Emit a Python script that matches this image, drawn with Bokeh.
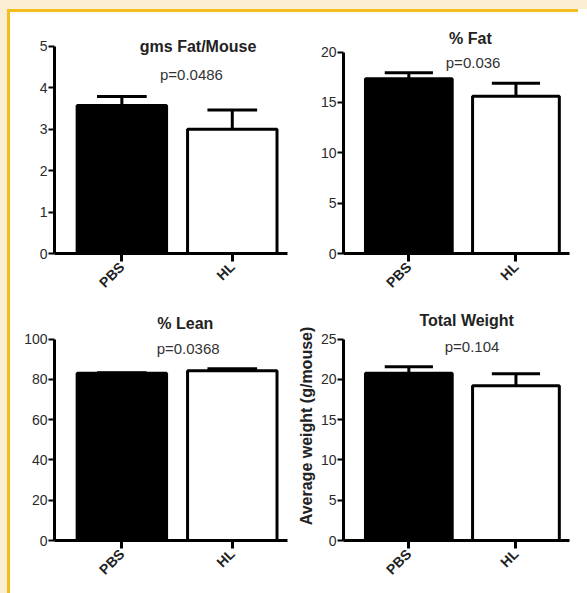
import math
from bokeh.plotting import figure
from bokeh.layouts import gridplot
from bokeh.models import FixedTicker, Label, Range1d
from bokeh.embed import file_html
from bokeh.resources import INLINE

# ---------------- data ----------------
groups = ["PBS", "HL"]
xpos = [1, 2]

titles = ["gms Fat/Mouse", "% Fat", "% Lean", "Total Weight"]
pvalues = ["p=0.0486", "p=0.036", "p=0.0368", "p=0.104"]
ylabels = ["", "", "", "Average weight (g/mouse)"]

fat_mass = [3.57, 3.00]
fat_mass_se = [0.22, 0.46]
fat_pct = [17.35, 15.62]
fat_pct_se = [0.60, 1.28]
lean_pct = [83.0, 84.3]
lean_pct_se = [0.35, 1.0]
weight = [20.75, 19.2]
weight_se = [0.82, 1.5]

yticks_fat_mass = [0, 1, 2, 3, 4, 5]
yticks_fat_pct = [0, 5, 10, 15, 20]
yticks_lean_pct = [0, 20, 40, 60, 80, 100]
yticks_weight = [0, 5, 10, 15, 20, 25]

means = [fat_mass, fat_pct, lean_pct, weight]
ses = [fat_mass_se, fat_pct_se, lean_pct_se, weight_se]
yticks = [yticks_fat_mass, yticks_fat_pct, yticks_lean_pct, yticks_weight]

# ---------------- layout / style ----------------
FONT = "Liberation Sans"
W, H = 284, 287
GOLD = "#F4BD1E"
CREAM = "#FCEED4"
# (left, right, top, bottom, y_end, title_xy, p_xy)
layout = [
    (42, 7, 11, 45, 5.55, (1.69, 5.0), (1.63, 4.33)),
    (40, 9, 11, 45, 22.84, (1.575, 21.4), (1.60, 19.0)),
    (44, 7, 12, 43, 113.7, (1.575, 107.8), (1.60, 95.2)),
    (43, 6, 12, 43, 28.43, (1.54, 27.3), (1.59, 24.1)),
]
XR = (0.39, 2.5)
BAR_W = 0.81
CAP = 0.225

figs = []
for i in range(4):
    lb, rb, tb, bb, yend, txy, pxy = layout[i]
    p = figure(width=W, height=H, output_backend="svg", toolbar_location=None,
               x_range=Range1d(*XR), y_range=Range1d(0, yend),
               min_border_left=lb, min_border_right=rb,
               min_border_top=tb, min_border_bottom=bb)
    p.outline_line_color = None
    p.xgrid.visible = False
    p.ygrid.visible = False
    p.background_fill_color = "white"
    p.border_fill_color = "white"

    m = means[i]
    s = ses[i]
    tops = [a + b for a, b in zip(m, s)]
    p.vbar(x=xpos, top=m, bottom=0, width=BAR_W,
           fill_color=["black", "white"], line_color="black", line_width=3)
    p.segment(x0=xpos, y0=m, x1=xpos, y1=tops, line_color="black", line_width=3)
    p.segment(x0=[x - CAP for x in xpos], y0=tops, x1=[x + CAP for x in xpos], y1=tops,
              line_color="black", line_width=3)

    # y axis
    ya = p.yaxis[0]
    ya.ticker = FixedTicker(ticks=yticks[i])
    ya.bounds = (0, yticks[i][-1])
    ya.axis_line_width = 3
    ya.major_tick_line_width = 2
    ya.major_tick_out = 6
    ya.major_tick_in = 0
    ya.minor_tick_line_color = None
    ya.major_label_text_font = FONT
    ya.major_label_text_font_size = "14px"
    ya.major_label_text_color = "#2a2a2a"
    ya.major_label_standoff = 1
    if ylabels[i]:
        ya.axis_label = ylabels[i]
        ya.axis_label_text_font = FONT
        ya.axis_label_text_font_size = "16px"
        ya.axis_label_text_font_style = "bold"
        ya.axis_label_text_color = "#222222"
        ya.axis_label_standoff = 3

    # x axis
    xa = p.xaxis[0]
    xa.ticker = FixedTicker(ticks=xpos)
    xa.major_label_overrides = {xpos[k]: groups[k] for k in range(2)}
    xa.axis_line_width = 3
    xa.major_tick_line_width = 3
    xa.major_tick_out = 8
    xa.major_tick_in = 0
    xa.minor_tick_line_color = None
    xa.major_label_orientation = math.pi / 4
    xa.major_label_text_font = FONT
    xa.major_label_text_font_size = "14px"
    xa.major_label_text_font_style = "bold"
    xa.major_label_text_color = "#222222"
    xa.major_label_standoff = 3

    p.add_layout(Label(x=txy[0], y=txy[1], text=titles[i], text_align="center",
                       text_baseline="middle", text_font=FONT, text_font_size="16px",
                       text_font_style="bold", text_color="#222222"))
    p.add_layout(Label(x=pxy[0], y=pxy[1], text=pvalues[i], text_align="center",
                       text_baseline="middle", text_font=FONT, text_font_size="15px",
                       text_color="#333333"))
    figs.append(p)

g = gridplot([[figs[0], figs[1]], [figs[2], figs[3]]], toolbar_location=None)
g.styles = {
    "margin-left": "7px",
    "margin-top": "9px",
    "border-left": f"3px solid {GOLD}",
    "border-top": f"3px solid {GOLD}",
    "box-shadow": (f"0px -586px 0 9px {CREAM}, -7px 0px 0 0 {CREAM}, "
                   f"-571px 7px 0 0 {CREAM}, -568px 7px 0 0 {GOLD}"),
}

open("out.html", "w").write(file_html(g, INLINE))
